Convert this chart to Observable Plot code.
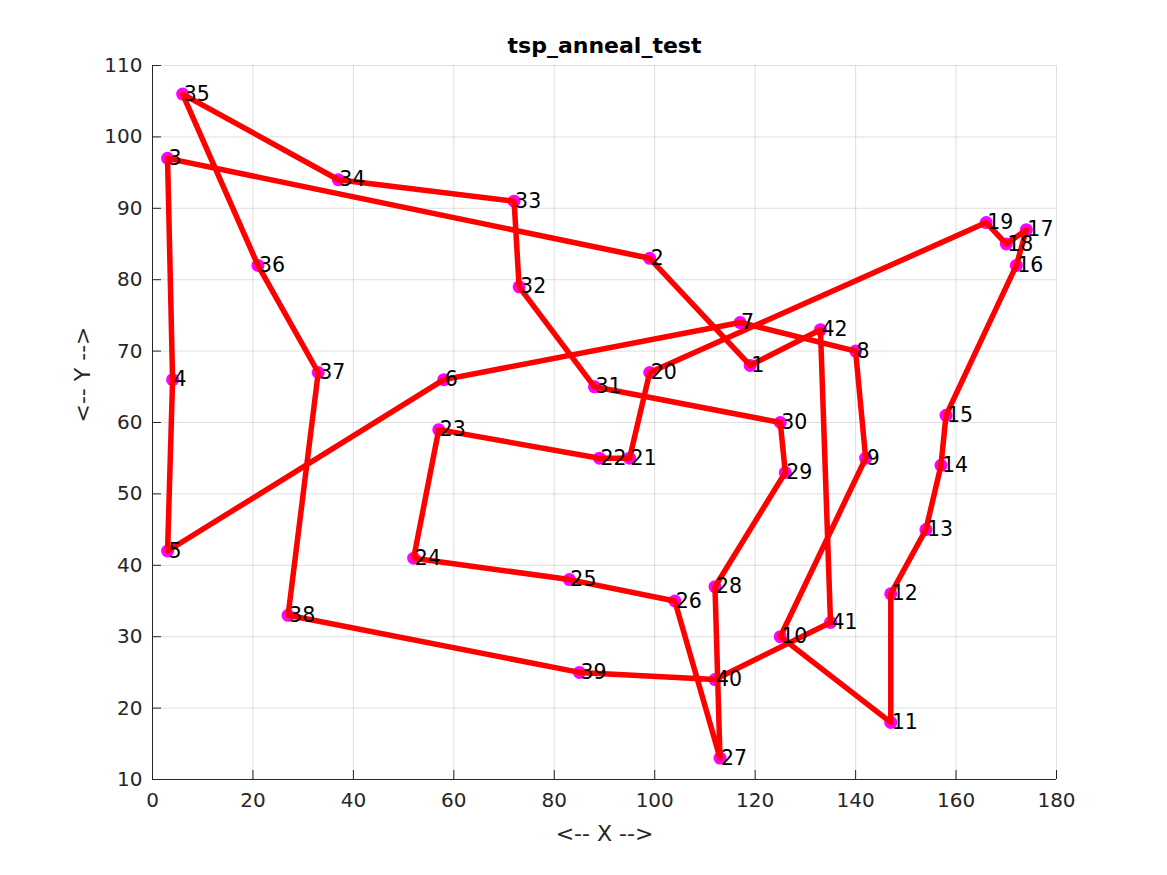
<!DOCTYPE html>
<html><head><meta charset="utf-8">
<script src="https://cdn.jsdelivr.net/npm/d3@7"></script>
<script src="https://cdn.jsdelivr.net/npm/@observablehq/plot@0.6"></script>
<style>body{margin:0;background:#fff} svg{display:block}</style>
</head><body><div id="chart"></div>
<script>
const chartTitle = "tsp_anneal_test";
const xLabel = "<-- X -->";
const yLabel = "<-- Y -->";
const xTicks = [0, 20, 40, 60, 80, 100, 120, 140, 160, 180];
const yTicks = [10, 20, 30, 40, 50, 60, 70, 80, 90, 100, 110];
const cityX = [119, 99, 3, 4, 3, 58, 117, 140, 142, 125, 147, 147, 154, 157, 158, 172, 174, 170, 166, 99, 95, 89, 57, 52, 83, 104, 113, 112, 126, 125, 88, 73, 72, 37, 6, 21, 33, 27, 85, 112, 135, 133];
const cityY = [68, 83, 97, 66, 42, 66, 74, 70, 55, 30, 18, 36, 45, 54, 61, 82, 87, 85, 88, 67, 55, 55, 59, 41, 38, 35, 13, 37, 53, 60, 65, 79, 91, 94, 106, 82, 67, 33, 25, 24, 32, 73];
const tour = [1, 2, 3, 4, 5, 6, 7, 8, 9, 10, 11, 12, 13, 14, 15, 16, 17, 18, 19, 20, 21, 22, 23, 24, 25, 26, 27, 28, 29, 30, 31, 32, 33, 34, 35, 36, 37, 38, 39, 40, 41, 42, 1];

const cities = cityX.map((x, i) => ({id: String(i + 1), x, y: cityY[i]}));
const path = tour.map(id => cities[id - 1]);
const axisColor = "#262626";

const chart = Plot.plot({
  width: 1167, height: 875,
  marginLeft: 152, marginRight: 111, marginTop: 65, marginBottom: 96,
  x: {domain: [0, 180]},
  y: {domain: [10, 110]},
  style: {fontFamily: "DejaVu Sans", background: "white", color: axisColor, overflow: "visible"},
  marks: [
    Plot.gridX(xTicks, {stroke: axisColor, strokeOpacity: 0.15, strokeWidth: 1}),
    Plot.gridY(yTicks, {stroke: axisColor, strokeOpacity: 0.15, strokeWidth: 1}),
    Plot.tickX(xTicks, {x: d => d, insetTop: 705, stroke: axisColor}),
    Plot.tickY(yTicks, {y: d => d, insetRight: 895, stroke: axisColor}),
    Plot.ruleX([0], {stroke: axisColor}),
    Plot.ruleY([10], {stroke: axisColor}),
    Plot.axisX({ticks: xTicks, tickSize: 0, tickPadding: 13, fontSize: 20, fill: axisColor, label: null}),
    Plot.axisY({ticks: yTicks, tickSize: 0, tickPadding: 10, fontSize: 20, fill: axisColor, label: null}),
    Plot.dot(cities, {x: "x", y: "y", r: 6.5, fill: "#ff00ff", stroke: "none"}),
    Plot.line(path, {x: "x", y: "y", stroke: "#ff0000", strokeWidth: 5.5, strokeLinejoin: "round", strokeLinecap: "round"}),
    Plot.text(cities, {x: "x", y: "y", text: "id", textAnchor: "start", dx: 1, fontSize: 20.5, fill: "black"}),
    Plot.text([chartTitle], {text: d => d, frameAnchor: "top", dy: -13, lineAnchor: "bottom", fontWeight: "bold", fontSize: 22, fill: "black"}),
    Plot.text([xLabel], {text: d => d, frameAnchor: "bottom", dy: 54, lineAnchor: "middle", fontSize: 22, fill: axisColor}),
    Plot.text([yLabel], {text: d => d, frameAnchor: "left", dx: -70, rotate: -90, lineAnchor: "middle", fontSize: 22, fill: axisColor})
  ]
});
document.getElementById("chart").appendChild(chart);
</script>
</body></html>
